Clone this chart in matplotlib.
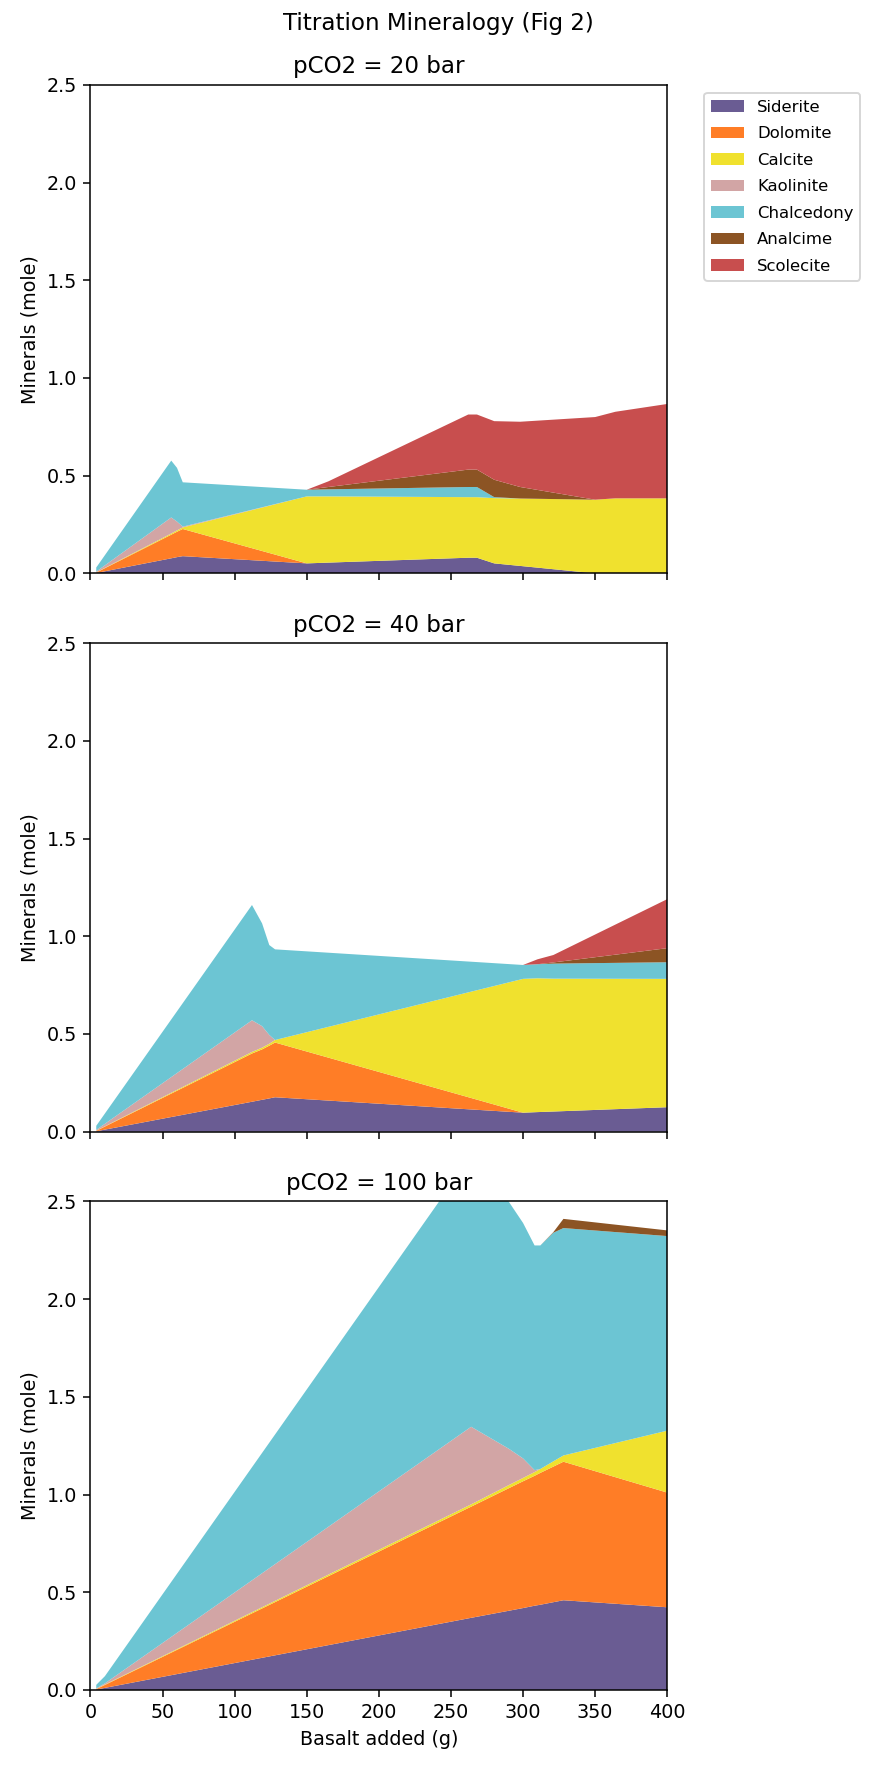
import matplotlib
matplotlib.use("Agg")
import matplotlib.pyplot as plt

minerals = ["Siderite", "Dolomite", "Calcite", "Kaolinite", "Chalcedony", "Analcime", "Scolecite"]
colors = ["#6a5c93", "#ff7d26", "#f0e12e", "#d2a5a5", "#6cc5d3", "#8c5424", "#c84e4e"]

# pCO2 = 20 bar
basalt_20 = [4, 56, 60, 64, 150, 165, 262, 268, 280, 298, 350, 364, 400]
siderite_20 = [0.002, 0.077, 0.083, 0.088, 0.051, 0.055, 0.080, 0.080, 0.051, 0.038, 0.0, 0.0, 0.0]
dolomite_20 = [0.002, 0.121, 0.130, 0.139, 0.0, 0.0, 0.0, 0.0, 0.0, 0.0, 0.0, 0.0, 0.0]
calcite_20 = [0.001, 0.006, 0.007, 0.008, 0.343, 0.339, 0.310, 0.310, 0.334, 0.345, 0.377, 0.384, 0.384]
kaolinite_20 = [0.004, 0.082, 0.045, 0.004, 0.0, 0.0, 0.0, 0.0, 0.0, 0.0, 0.0, 0.0, 0.0]
chalcedony_20 = [0.021, 0.291, 0.275, 0.227, 0.034, 0.036, 0.052, 0.052, 0.005, 0.0, 0.0, 0.0, 0.0]
analcime_20 = [0.0, 0.0, 0.0, 0.0, 0.0, 0.012, 0.089, 0.089, 0.089, 0.059, 0.0, 0.0, 0.0]
scolecite_20 = [0.0, 0.0, 0.0, 0.0, 0.0, 0.029, 0.282, 0.282, 0.300, 0.334, 0.423, 0.443, 0.483]

# pCO2 = 40 bar
basalt_40 = [4, 112, 119, 124, 128, 300, 310, 321, 400]
siderite_40 = [0.002, 0.153, 0.163, 0.170, 0.176, 0.097, 0.100, 0.103, 0.125]
dolomite_40 = [0.002, 0.247, 0.258, 0.270, 0.280, 0.0, 0.0, 0.0, 0.0]
calcite_40 = [0.001, 0.008, 0.009, 0.010, 0.013, 0.685, 0.685, 0.680, 0.657]
kaolinite_40 = [0.004, 0.162, 0.110, 0.045, 0.0, 0.0, 0.0, 0.0, 0.0]
chalcedony_40 = [0.021, 0.590, 0.526, 0.460, 0.464, 0.071, 0.072, 0.077, 0.085]
analcime_40 = [0.0, 0.0, 0.0, 0.0, 0.0, 0.0, 0.0, 0.006, 0.072]
scolecite_40 = [0.0, 0.0, 0.0, 0.0, 0.0, 0.0, 0.025, 0.038, 0.251]

# pCO2 = 100 bar
basalt_100 = [4, 10, 264, 290, 300, 308, 312, 321, 328, 400]
siderite_100 = [0.002, 0.0105, 0.369, 0.405, 0.419, 0.431, 0.436, 0.449, 0.459, 0.423]
dolomite_100 = [0.002, 0.015, 0.569, 0.627, 0.649, 0.665, 0.675, 0.694, 0.709, 0.587]
calcite_100 = [0.001, 0.002, 0.012, 0.016, 0.017, 0.019, 0.020, 0.027, 0.032, 0.317]
kaolinite_100 = [0.003, 0.006, 0.397, 0.187, 0.100, 0.010, 0.0, 0.0, 0.0, 0.0]
chalcedony_100 = [0.018, 0.037, 1.386, 1.265, 1.205, 1.150, 1.144, 1.170, 1.164, 0.996]
analcime_100 = [0.0, 0.0, 0.0, 0.0, 0.0, 0.0, 0.0, 0.003, 0.047, 0.029]
scolecite_100 = [0.0, 0.0, 0.0, 0.0, 0.0, 0.0, 0.0, 0.0, 0.0, 0.0]

pressures = [20, 40, 100]


def draw_panel(ax, x, layers, pressure):
    ax.stackplot(x, *layers, labels=minerals, colors=colors)
    ax.set_title("pCO2 = %d bar" % pressure)
    ax.set_ylabel("Minerals (mole)")
    ax.set_xlim(0, 400)
    ax.set_ylim(0, 2.5)
    ax.set_xticks(range(0, 401, 50))
    ax.set_yticks([0.0, 0.5, 1.0, 1.5, 2.0, 2.5])


def main():
    fig, axes = plt.subplots(3, 1, sharex=True, figsize=(876 / 138, 1769 / 138), dpi=138)
    fig.subplots_adjust(left=0.1033, right=0.7617, top=0.952, bottom=0.0447, hspace=0.143)

    data = [
        (basalt_20, [siderite_20, dolomite_20, calcite_20, kaolinite_20, chalcedony_20, analcime_20, scolecite_20]),
        (basalt_40, [siderite_40, dolomite_40, calcite_40, kaolinite_40, chalcedony_40, analcime_40, scolecite_40]),
        (basalt_100, [siderite_100, dolomite_100, calcite_100, kaolinite_100, chalcedony_100, analcime_100, scolecite_100]),
    ]
    for ax, (x, layers), p in zip(axes, data, pressures):
        draw_panel(ax, x, layers, p)

    axes[0].legend(bbox_to_anchor=(1.05, 1), loc="upper left", fontsize=8.6, labelspacing=0.7)
    axes[-1].set_xlabel("Basalt added (g)")
    fig.suptitle("Titration Mineralogy (Fig 2)", y=0.993, va="top")

    fig.savefig("out.png", dpi=138)


if __name__ == "__main__":
    main()
